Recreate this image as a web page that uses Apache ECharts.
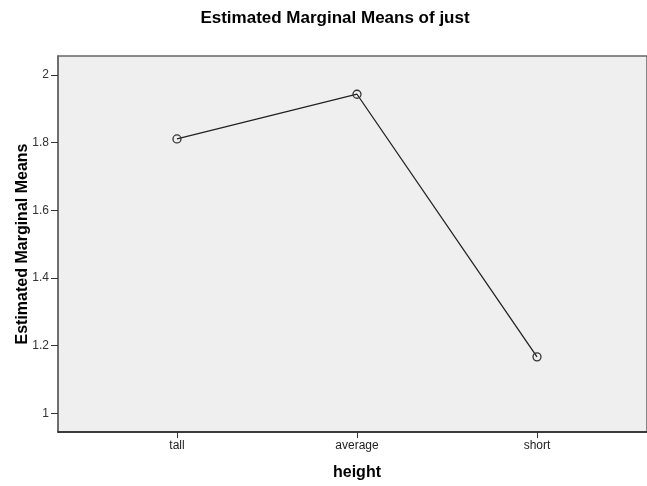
<!DOCTYPE html>
<html>
<head>
<meta charset="utf-8">
<script src="https://cdn.jsdelivr.net/npm/echarts@6/dist/echarts.min.js"></script>
<style>
html,body{margin:0;padding:0;background:#fff}
#container{width:647px;height:486px}
</style>
</head>
<body>
<div id="container"></div>
<script>
// categories and estimated means
var heightCats = ['tall', 'average', 'short'];
var meanValues = [1.811, 1.943, 1.167];
var yTicks = [1, 1.2, 1.4, 1.6, 1.8, 2];

var dom = document.getElementById('container');
var myChart = echarts.init(dom);

var pts = meanValues.map(function (v, i) {
	return [i, v];
});
var xIdx = heightCats.map(function (c, i) {
	return i;
});

var font = 'Arial, "Liberation Sans", sans-serif';

var option = {
	animation: false,
	title: {
		text: 'Estimated Marginal Means of just',
		left: 330,
		textAlign: 'center',
		top: 5,
		textStyle: {
			fontFamily: font,
			fontSize: 17,
			fontWeight: 'bold',
			color: '#000'
		}
	},
	grid: {
		left: 58,
		right: 0,
		top: 56,
		bottom: 54,
		outerBoundsMode: 'none',
		containLabel: false,
		show: true,
		backgroundColor: '#efefef',
		borderColor: '#666',
		borderWidth: 1.5
	},
	xAxis: {
		type: 'value',
		min: -0.661,
		max: 2.611,
		name: 'height',
		nameLocation: 'middle',
		nameGap: 33,
		nameMoveOverlap: false,
		nameTextStyle: {
			fontFamily: font,
			fontSize: 16,
			fontWeight: 'bold',
			color: '#000',
			padding: [0, 0, 0, 9]
		},
		splitLine: {show: false},
		axisLine: {onZero: false, lineStyle: {color: '#222', width: 1.5}},
		axisTick: {
			customValues: xIdx,
			length: 6,
			lineStyle: {color: '#333'}
		},
		axisLabel: {
			customValues: xIdx,
			margin: 8,
			fontFamily: font,
			fontSize: 12,
			color: '#222',
			formatter: function (v) {
				return heightCats[Math.round(v)];
			}
		}
	},
	yAxis: {
		type: 'value',
		min: 0.945,
		max: 2.056,
		name: 'Estimated Marginal Means',
		nameLocation: 'middle',
		nameGap: 27,
		nameMoveOverlap: false,
		nameTextStyle: {
			fontFamily: font,
			fontSize: 16,
			fontWeight: 'bold',
			color: '#000'
		},
		splitLine: {show: false},
		axisLine: {show: true, onZero: false, lineStyle: {color: '#666', width: 1.5}},
		axisTick: {
			show: true,
			customValues: yTicks,
			length: 7,
			lineStyle: {color: '#333'}
		},
		axisLabel: {
			customValues: yTicks,
			margin: 9,
			fontFamily: font,
			fontSize: 12,
			color: '#333'
		}
	},
	series: [{
		type: 'line',
		data: pts,
		symbol: 'circle',
		symbolSize: 8,
		lineStyle: {color: '#222', width: 1.3},
		itemStyle: {
			color: 'rgba(0,0,0,0)',
			borderColor: '#333',
			borderWidth: 1.3
		}
	}]
};

myChart.setOption(option);
</script>
</body>
</html>
